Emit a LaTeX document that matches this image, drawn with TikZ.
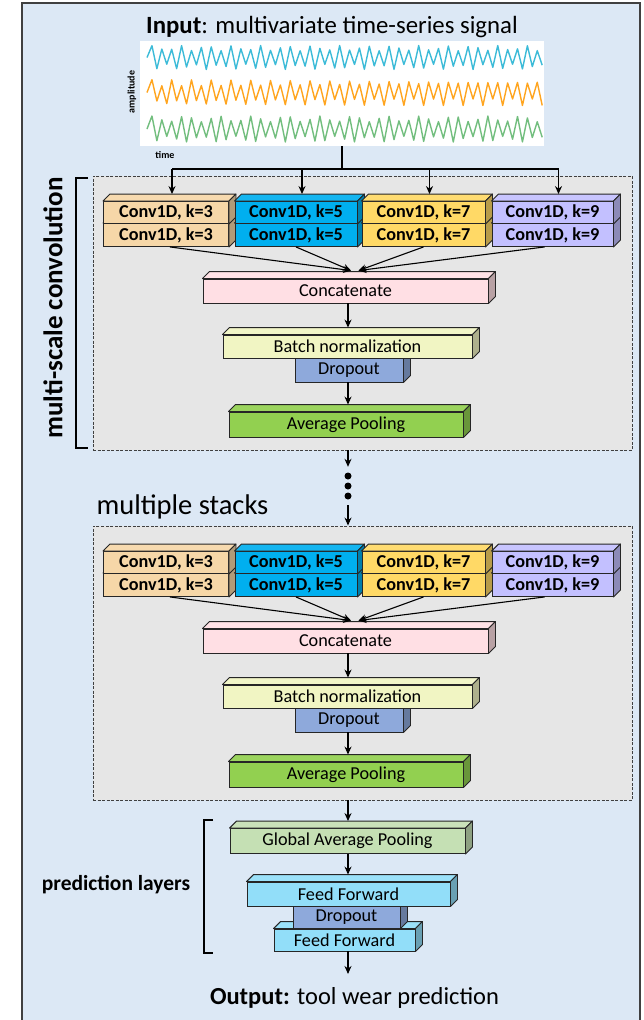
\documentclass[tikz,border=0pt]{standalone}
\usepackage{fontspec}
\setmainfont{Carlito}
\usetikzlibrary{arrows.meta,calc}
\definecolor{bgblue}{HTML}{DCE8F5}
\definecolor{dgray}{HTML}{E6E6E6}
\definecolor{ck3}{HTML}{F6D7A8}
\definecolor{ck5}{HTML}{00AFEF}
\definecolor{ck7}{HTML}{FFD966}
\definecolor{ck9}{HTML}{C3C0FF}
\definecolor{ccat}{HTML}{FFDFE4}
\definecolor{cbn}{HTML}{F1F5C3}
\definecolor{cdrop}{HTML}{8EA9DB}
\definecolor{cavg}{HTML}{92D050}
\definecolor{cgap}{HTML}{C5E0B4}
\definecolor{cff}{HTML}{92DEF9}
\definecolor{wcyan}{HTML}{3CBBD8}
\definecolor{worange}{HTML}{FFA51F}
\definecolor{wgreen}{HTML}{72BE7E}
\newcommand\lblfont{\fontsize{18.2}{21}\selectfont}
\tikzset{
  blk/.style={draw=black!85, line width=0.9pt, inner sep=0pt, text=black},
  face/.style={draw=black!85, line width=0.9pt, line join=round},
  arr/.style={-{Stealth[length=8pt,width=7pt]}, line width=1.1pt},
  dbox/.style={draw=black!75, dash pattern=on 3pt off 1.5pt, line width=0.9pt, fill=dgray, inner sep=0pt},
  brk/.style={line width=2pt},
  wave/.style={line width=1.4pt, line join=round},
}
% #1 name #2 cx #3 cy #4 w #5 h #6 color #7 font #8 text
\newcommand\cubeblk[8]{%
  \node[blk,fill=#6,minimum width=#4pt,minimum height=#5pt,font=#7] (#1) at (#2,#3) {#8};
  \draw[face,fill=#6!92!white] (#1.north west) -- ($(#1.north west)+(7,-7)$) -- ($(#1.north east)+(7,-7)$) -- (#1.north east) -- cycle;
  \draw[face,fill=#6!72!black] (#1.north east) -- ($(#1.north east)+(7,-7)$) -- ($(#1.south east)+(7,-7)$) -- (#1.south east) -- cycle;
  \coordinate (#1t) at ($(#1.north)+(0,-7)$);
}
% #1 prefix #2 vertical offset
\newcommand\stackblk[2]{%
  \node[dbox, minimum width=539pt, minimum height=274pt] (#1s) at (362.5,{313+#2}) {};
  \cubeblk{#1b1}{166}{{235+#2}}{125}{23}{ck3}{\lblfont\bfseries}{Conv1D, k=3}
  \cubeblk{#1a1}{166}{{212.5+#2}}{125}{22}{ck3}{\lblfont\bfseries}{Conv1D, k=3}
  \cubeblk{#1b2}{296}{{235+#2}}{122}{23}{ck5}{\lblfont\bfseries}{Conv1D, k=5}
  \cubeblk{#1a2}{296}{{212.5+#2}}{122}{22}{ck5}{\lblfont\bfseries}{Conv1D, k=5}
  \cubeblk{#1b3}{423.5}{{235+#2}}{123}{23}{ck7}{\lblfont\bfseries}{Conv1D, k=7}
  \cubeblk{#1a3}{423.5}{{212.5+#2}}{123}{22}{ck7}{\lblfont\bfseries}{Conv1D, k=7}
  \cubeblk{#1b4}{552.5}{{235+#2}}{121}{23}{ck9}{\lblfont\bfseries}{Conv1D, k=9}
  \cubeblk{#1a4}{552.5}{{212.5+#2}}{121}{22}{ck9}{\lblfont\bfseries}{Conv1D, k=9}
  \cubeblk{#1cc}{345.5}{{291+#2}}{285}{24}{ccat}{\lblfont}{Concatenate}
  \coordinate (#1cin1) at ($(#1cc.north)+(5.5,-8)$);
  \coordinate (#1cin2) at ($(#1cc.north)+(13,-8)$);
  \draw[arr] ($(#1b1.south)+(4,0)$) -- (#1cin1);
  \draw[arr] (#1b2.south) -- (#1cin1);
  \draw[arr] (#1b3.south) -- (#1cin2);
  \draw[arr] ($(#1b4.south)+(-8,0)$) -- (#1cin2);
  \cubeblk{#1dr}{349}{{370+#2}}{108}{24}{cdrop}{\lblfont}{Dropout}
  \cubeblk{#1bn}{347.5}{{346.5+#2}}{249}{23}{cbn}{\lblfont}{Batch normalization}
  \cubeblk{#1ap}{346}{{424.5+#2}}{234}{25}{cavg}{\lblfont}{Average Pooling}
  \draw[arr] (#1cc.south -| ax) -- (#1bnt -| ax);
  \draw[arr] (#1dr.south -| ax) -- (#1apt -| ax);
}
\begin{document}
\begin{tikzpicture}[x=1pt,y=-1pt]
\useasboundingbox (0,0) rectangle (643,1020);
\clip (0,0) rectangle (643,1020);
\fill[white] (0,0) rectangle (643,1020);
\fill[bgblue] (22,3) rectangle (640,1030);
\draw[black!75, line width=1.5pt] (22,1030) -- (22,3) -- (640,3) -- (640,1030);
\coordinate (ax) at (348,0);

% input
\node[anchor=base, font=\fontsize{24.8}{28}\selectfont] (title) at (332,33) {\textbf{Input}: multivariate time-series signal};
\node[fill=white, minimum width=404pt, minimum height=105pt, inner sep=0pt] (plot) at (342,93.5) {};
\draw[wave, wcyan] (147,57.5) \foreach \i in {1,...,80}{ -- ({147+\i*4.94},{57.5+cos(\i*180)*12*(0.78+0.22*sin(\i*67))}) };
\draw[wave, worange] (147,92.5) \foreach \i in {1,...,80}{ -- ({147+\i*4.94},{92.5+cos(\i*180)*13*(0.75+0.25*sin(\i*91+20))}) };
\draw[wave, wgreen] (147,129) \foreach \i in {1,...,80}{ -- ({147+\i*4.94},{129+cos(\i*180)*13*(0.78+0.22*sin(\i*53+40))}) };
\node[rotate=90, font=\fontsize{10}{12}\selectfont\bfseries] (ampl) at (132,92) {amplitude};
\node[font=\fontsize{10}{12}\selectfont\bfseries] (timel) at (165,155) {time};

% stacks
\stackblk{P}{0}
\stackblk{Q}{350}

% input arrows
\coordinate (hl) at (0,169);
\coordinate (a1x) at ($(Pa1t)+(6,0)$);
\coordinate (a2x) at ($(Pa2t)+(6,0)$);
\coordinate (a3x) at ($(Pa3t)+(6,0)$);
\coordinate (a4x) at ($(Pa4t)+(6,0)$);
\draw[line width=1.1pt] (plot.south) -- (plot.south |- hl);
\draw[line width=1.1pt] (a1x |- hl) -- (a4x |- hl);
\draw[arr] (a1x |- hl) -- (a1x);
\draw[arr] (a2x |- hl) -- (a2x);
\draw[arr] (a3x |- hl) -- (a3x);
\draw[arr] (a4x |- hl) -- (a4x);

% bracket and label
\draw[brk] (88,178) -- (76,178) -- (76,448) -- (88,448);
\node[rotate=90, font=\fontsize{27}{30}\selectfont\bfseries] (msc) at (53,308) {multi-scale convolution};

% dots between stacks
\node[minimum height=38pt, minimum width=8pt, inner sep=0pt] (dots) at (348,486) {};
\fill (dots.center) circle (3.5);
\fill ($(dots.center)+(0,-10)$) circle (3.5);
\fill ($(dots.center)+(0,10)$) circle (3.5);
\draw[arr] (Ps.south -| dots.north) -- (dots.north);
\draw[arr] (dots.south) -- (dots.south |- Qs.north);
\node[anchor=base west, font=\fontsize{28.5}{32}\selectfont] (ms) at (93,514) {multiple stacks};

% prediction layers
\cubeblk{gap}{347.5}{841}{235}{25}{cgap}{\lblfont}{Global Average Pooling}
\cubeblk{ff2}{344.5}{940}{141}{22}{cff}{\lblfont}{Feed Forward}
\cubeblk{dr2}{346.5}{917}{107}{22}{cdrop}{\lblfont}{Dropout}
\cubeblk{ff1}{348.5}{894}{203}{24}{cff}{\lblfont}{Feed Forward}
\draw[arr] (Qs.south -| ax) -- (gapt -| ax);
\draw[arr] (gap.south -| ax) -- (ff1t -| ax);
\coordinate (outin) at (348,974);
\draw[arr] (ff2.south -| ax) -- (outin);
\draw[brk] (213,820) -- (204,820) -- (204,953) -- (213,953);
\node[anchor=base, font=\fontsize{21.5}{24}\selectfont\bfseries] (pl) at (116,890) {prediction layers};
\node[anchor=base, font=\fontsize{24.5}{28}\selectfont] (out) at (354.5,1004) {\textbf{Output:} tool wear prediction};
\end{tikzpicture}
\end{document}
